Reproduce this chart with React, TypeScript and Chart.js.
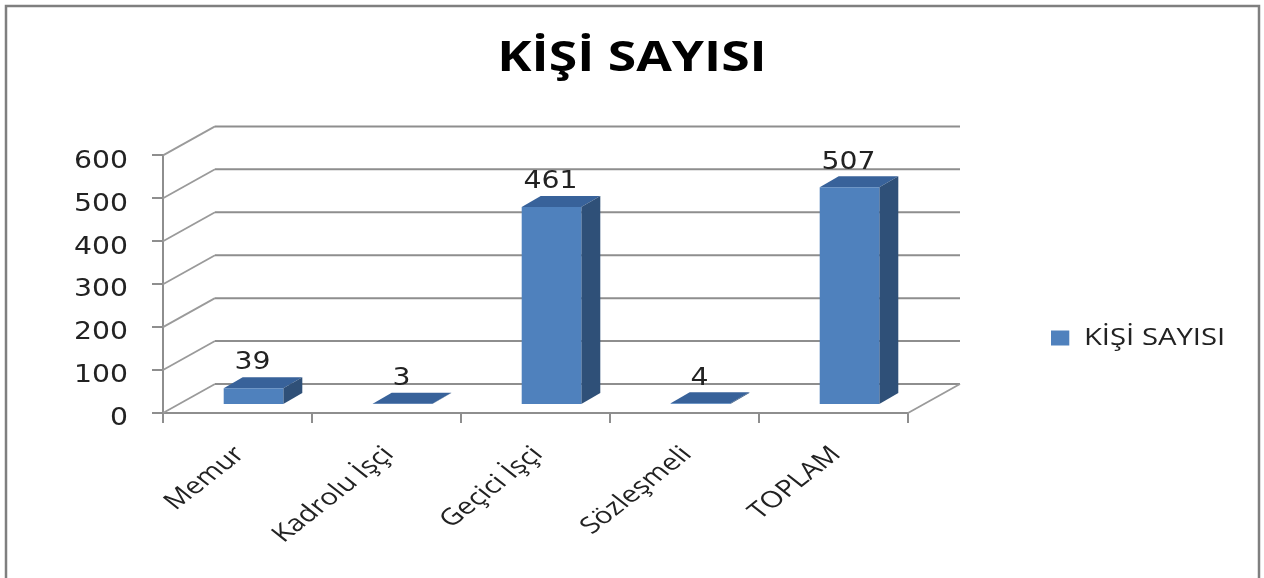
import React, { useEffect, useRef } from "react";
import { Chart, registerables } from "chart.js";

Chart.register(...registerables);

const categories = ["Memur", "Kadrolu İşçi", "Geçici İşçi", "Sözleşmeli", "TOPLAM"];
const values = [39, 3, 461, 4, 507];
const seriesName = "KİŞİ SAYISI";
const chartTitle = "KİŞİ SAYISI";

const FRONT = "#4F81BD";
const TOP = "#38629A";
const SIDE = "#2F5078";
const GRID = "#8E8E8E";
const DIAG = "#9A9A9A";
const TEXT = "#222222";
const NUM_FONT = '"DejaVu Sans"';
const LABEL_FONT = '"Open Sans"';

// Wall depth and bar placement inside the simulated 3D box
const wallDx = 52;
const wallDy = -29;
const barDx = 16;
const barDy = -8;
const barDepthX = 19;
const barDepthY = -11;

// The reference image is stretched sideways, text included.
function stretchX(ctx: any, anchor: number, sx: number) {
  ctx.translate(anchor, 0);
  ctx.scale(sx, 1);
  ctx.translate(-anchor, 0);
}

function stretchBox(box: any, anchor: number, sx: number) {
  if (!box || box.__stretched) return;
  box.__stretched = true;
  const draw = box.draw;
  box.draw = function (...args: any[]) {
    this.ctx.save();
    stretchX(this.ctx, anchor, sx);
    draw.apply(this, args);
    this.ctx.restore();
  };
}

function stretchLabels(scale: any, sx: number, dy: number) {
  if (scale.__stretched) return;
  scale.__stretched = true;
  const drawLabels = scale.drawLabels;
  const getItems = scale.getLabelItems;
  scale.drawLabels = function (area: any) {
    const ctx = this.ctx;
    const items = getItems.call(this, area);
    items.forEach((item: any) => {
      this.getLabelItems = () => [item];
      ctx.save();
      stretchX(ctx, item.options.translation[0], sx);
      ctx.translate(0, dy);
      drawLabels.call(this, area);
      ctx.restore();
    });
    this.getLabelItems = getItems;
  };
}

const threeD = {
  id: "threeD",
  beforeLayout(chart: any) {
    const legend = chart.legend;
    if (legend && !legend.__patched) {
      const fit = legend.fit;
      legend.fit = function () {
        fit.call(this);
        this.width = 356;
      };
      legend.__patched = true;
    }
  },
  beforeDraw(chart: any) {
    const { ctx, legend, scales } = chart;
    legend.left = 1041;
    legend.right = 1264;
    legend.top = 316;
    legend.bottom = 360;
    legend.width = 223;
    legend.height = 44;
    stretchBox(legend, 1051, 1.22);
    stretchBox(chart.titleBlock, 632, 1.23);
    stretchLabels(scales.y, 1.18, 6);
    stretchLabels(scales.x, 1.27, 0);
    ctx.save();
    ctx.strokeStyle = "#7F7F7F";
    ctx.lineWidth = 2.5;
    ctx.beginPath();
    ctx.moveTo(6, 578);
    ctx.lineTo(6, 6);
    ctx.lineTo(1259, 6);
    ctx.lineTo(1259, 578);
    ctx.stroke();
    ctx.restore();
  },
  beforeDatasetsDraw(chart: any) {
    const { ctx, chartArea, scales } = chart;
    const y = scales.y;
    ctx.save();
    y.ticks.forEach((t: any) => {
      const py = y.getPixelForValue(t.value);
      ctx.strokeStyle = DIAG;
      ctx.lineWidth = 1.8;
      ctx.beginPath();
      ctx.moveTo(chartArea.left, py);
      ctx.lineTo(chartArea.left + wallDx, py + wallDy);
      ctx.stroke();
      ctx.strokeStyle = GRID;
      ctx.lineWidth = 2;
      ctx.beginPath();
      ctx.moveTo(chartArea.left + wallDx, py + wallDy);
      ctx.lineTo(chartArea.right + wallDx, py + wallDy);
      ctx.stroke();
    });
    const py0 = y.getPixelForValue(0);
    ctx.strokeStyle = DIAG;
    ctx.lineWidth = 1.8;
    ctx.beginPath();
    ctx.moveTo(chartArea.right, py0);
    ctx.lineTo(chartArea.right + wallDx, py0 + wallDy);
    ctx.stroke();
    ctx.restore();

    ctx.save();
    ctx.translate(barDx, barDy);
    chart.getDatasetMeta(0).data.forEach((bar: any) => {
      const { x, y: top, base, width } = bar.getProps(["x", "y", "base", "width"], true);
      const l = x - width / 2;
      const r = x + width / 2;
      ctx.fillStyle = TOP;
      ctx.beginPath();
      ctx.moveTo(l, top);
      ctx.lineTo(l + barDepthX, top + barDepthY);
      ctx.lineTo(r + barDepthX, top + barDepthY);
      ctx.lineTo(r, top);
      ctx.closePath();
      ctx.fill();
      ctx.fillStyle = SIDE;
      ctx.beginPath();
      ctx.moveTo(r, top);
      ctx.lineTo(r + barDepthX, top + barDepthY);
      ctx.lineTo(r + barDepthX, base + barDepthY);
      ctx.lineTo(r, base);
      ctx.closePath();
      ctx.fill();
    });
    // kept open so the library's own bars share this offset
  },
  afterDatasetsDraw(chart: any) {
    const { ctx } = chart;
    ctx.restore();
    chart.getDatasetMeta(0).data.forEach((bar: any, i: number) => {
      const { x, y: top } = bar.getProps(["x", "y"], true);
      const cx = x + barDx - 1;
      ctx.save();
      stretchX(ctx, cx, 1.18);
      ctx.fillStyle = TEXT;
      ctx.font = `24px ${NUM_FONT}`;
      ctx.textAlign = "center";
      ctx.textBaseline = "middle";
      ctx.fillText(String(values[i]), cx, top + barDy - 25);
      ctx.restore();
    });
  },
};

export default function App() {
  const ref = useRef<HTMLCanvasElement>(null);
  useEffect(() => {
    if (!ref.current) return;
    const chart = new Chart(ref.current, {
      type: "bar",
      data: {
        labels: categories,
        datasets: [
          {
            label: seriesName,
            data: values,
            backgroundColor: FRONT,
            borderWidth: 0,
            categoryPercentage: 1,
            barPercentage: 0.4,
            clip: false,
          },
        ],
      },
      plugins: [threeD],
      options: {
        animation: false,
        responsive: false,
        devicePixelRatio: 1,
        layout: { padding: 0 },
        plugins: {
          tooltip: { enabled: false },
          title: {
            display: true,
            text: chartTitle,
            color: "#000000",
            font: { family: LABEL_FONT, size: 42, weight: "bold" },
            padding: { top: 34, bottom: 71 },
          },
          legend: {
            display: true,
            position: "right",
            labels: {
              boxWidth: 15,
              boxHeight: 15,
              padding: 10,
              color: TEXT,
              font: { family: LABEL_FONT, size: 24 },
            },
          },
        },
        scales: {
          x: {
            afterFit(scale: any) {
              scale.height = 165;
            },
            grid: {
              drawOnChartArea: false,
              drawTicks: true,
              tickLength: 10,
              color: GRID,
              lineWidth: 2,
            },
            border: { display: true, color: GRID, width: 2 },
            ticks: {
              autoSkip: false,
              minRotation: 45,
              maxRotation: 45,
              padding: 18,
              color: TEXT,
              font: { family: LABEL_FONT, size: 23 },
            },
          },
          y: {
            min: 0,
            max: 600,
            afterFit(scale: any) {
              scale.width = 163;
            },
            grid: {
              drawOnChartArea: false,
              drawTicks: true,
              tickLength: 11,
              color: GRID,
              lineWidth: 2,
            },
            border: { display: true, color: GRID, width: 2 },
            ticks: {
              stepSize: 100,
              padding: 24,
              color: TEXT,
              font: { family: NUM_FONT, size: 24 },
            },
          },
        },
      },
    } as any);
    return () => chart.destroy();
  }, []);
  return (
    <canvas
      ref={ref}
      width={1264}
      height={578}
      style={{ position: "absolute", left: 0, top: 0, display: "block" }}
    />
  );
}
